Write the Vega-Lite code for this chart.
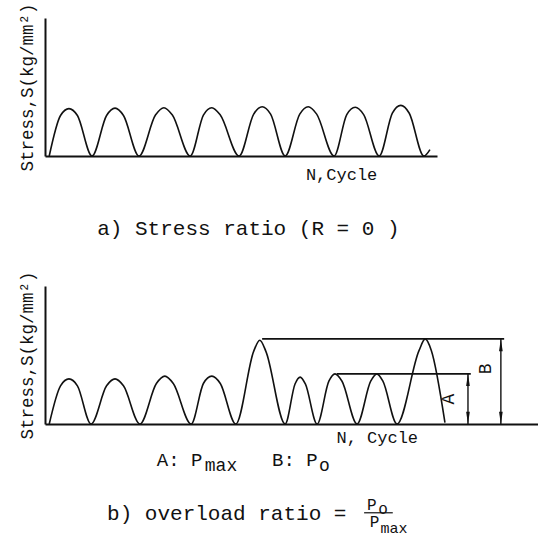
{
  "$schema": "https://vega.github.io/schema/vega-lite/v6.json",
  "padding": {"left": 17, "top": 2, "right": 0, "bottom": 12},
  "background": "white",
  "spacing": 130,
  "bounds": "flush",
  "config": {
    "view": {"stroke": null},
    "font": "Liberation Mono",
    "axis": {"domainColor": "#111", "domainWidth": 2, "ticks": false, "labels": false, "grid": false, "titleFont": "Liberation Mono", "titleFontSize": 17.5, "titleFontWeight": "normal", "titleColor": "#111", "titlePadding": 9},
    "text": {"font": "Liberation Mono", "color": "#111"}
  },
  "datasets": {
    "curveA": [
      {"n": 0.09, "s": 0}, {"n": 0.33, "s": 0.88}, {"n": 0.51, "s": 1.03}, {"n": 0.69, "s": 0.88}, {"n": 1.0, "s": 0},
      {"n": 1.31, "s": 0.88}, {"n": 1.49, "s": 1.04}, {"n": 1.67, "s": 0.88}, {"n": 2.0, "s": 0},
      {"n": 2.35, "s": 0.89}, {"n": 2.53, "s": 1.05}, {"n": 2.71, "s": 0.89}, {"n": 3.09, "s": 0},
      {"n": 3.37, "s": 0.89}, {"n": 3.55, "s": 1.05}, {"n": 3.73, "s": 0.89}, {"n": 4.13, "s": 0},
      {"n": 4.44, "s": 0.91}, {"n": 4.62, "s": 1.07}, {"n": 4.8, "s": 0.91}, {"n": 5.11, "s": 0},
      {"n": 5.42, "s": 0.91}, {"n": 5.6, "s": 1.07}, {"n": 5.78, "s": 0.91}, {"n": 6.15, "s": 0},
      {"n": 6.42, "s": 0.9}, {"n": 6.6, "s": 1.06}, {"n": 6.78, "s": 0.9}, {"n": 7.11, "s": 0},
      {"n": 7.39, "s": 0.93}, {"n": 7.57, "s": 1.1}, {"n": 7.75, "s": 0.93}, {"n": 8.06, "s": 0},
      {"n": 8.19, "s": 0.14}
    ],
    "curveB": [
      {"n": 0.09, "s": 0}, {"n": 0.33, "s": 0.83}, {"n": 0.51, "s": 0.98}, {"n": 0.69, "s": 0.83}, {"n": 0.98, "s": 0},
      {"n": 1.31, "s": 0.83}, {"n": 1.49, "s": 0.98}, {"n": 1.67, "s": 0.83}, {"n": 2.02, "s": 0},
      {"n": 2.37, "s": 0.88}, {"n": 2.55, "s": 1.04}, {"n": 2.73, "s": 0.88}, {"n": 3.11, "s": 0},
      {"n": 3.37, "s": 0.88}, {"n": 3.55, "s": 1.04}, {"n": 3.73, "s": 0.88}, {"n": 4.06, "s": 0},
      {"n": 4.44, "s": 1.58}, {"n": 4.57, "s": 1.82}, {"n": 4.7, "s": 1.58}, {"n": 5.11, "s": 0},
      {"n": 5.32, "s": 0.87}, {"n": 5.43, "s": 1.02}, {"n": 5.54, "s": 0.87}, {"n": 5.79, "s": 0},
      {"n": 6.04, "s": 0.93}, {"n": 6.17, "s": 1.09}, {"n": 6.32, "s": 0.93}, {"n": 6.64, "s": 0},
      {"n": 6.93, "s": 0.93}, {"n": 7.06, "s": 1.09}, {"n": 7.19, "s": 0.93}, {"n": 7.49, "s": 0},
      {"n": 7.96, "s": 1.6}, {"n": 8.09, "s": 1.85}, {"n": 8.22, "s": 1.6}, {"n": 8.51, "s": 0.03}
    ],
    "levels": [
      {"n": 4.62, "n2": 9.77, "s": 1.85},
      {"n": 6.21, "n2": 9.06, "s": 1.09}
    ],
    "arrows": [
      {"n": 9.0, "s": 0, "s2": 1.09},
      {"n": 9.7, "s": 0, "s2": 1.85}
    ],
    "heads": [
      {"n": 9.0, "s": 1.09, "dir": "up"}, {"n": 9.0, "s": 0, "dir": "down"},
      {"n": 9.7, "s": 1.85, "dir": "up"}, {"n": 9.7, "s": 0, "dir": "down"}
    ],
    "axisLabelA": [{"n": 6.31, "s": -0.41, "label": "N,Cycle"}],
    "captionA": [{"n": 1.11, "s": -1.59, "label": "a) Stress ratio (R = 0 )"}],
    "axisLabelB": [{"n": 7.07, "s": -0.3, "label": "N, Cycle"}],
    "legendB": [
      {"n": 2.38, "s": -0.78, "label": "A: P"},
      {"n": 4.83, "s": -0.78, "label": "B: P"}
    ],
    "legendSub": [
      {"n": 3.4, "s": -0.91, "label": "max"},
      {"n": 5.83, "s": -0.91, "label": "o"}
    ],
    "captionB": [{"n": 1.32, "s": -1.96, "label": "b)  overload ratio ="}],
    "fraction": [
      {"n": 6.85, "s": -1.76, "label": "P"},
      {"n": 7.09, "s": -1.84, "label": "o"},
      {"n": 6.91, "s": -2.12, "label": "P"}
    ],
    "fractionSub": [
      {"n": 7.14, "s": -2.26, "label": "max"}
    ],
    "fractionBar": [{"n": 6.79, "n2": 7.4, "s": -1.93}],
    "letters": [
      {"n": 8.6, "s": 0.54, "label": "A"},
      {"n": 9.38, "s": 1.2, "label": "B"}
    ]
  },
  "vconcat": [
    {
      "width": 392,
      "height": 138,
      "encoding": {
        "x": {"field": "n", "type": "quantitative", "scale": {"domain": [0, 8.34], "nice": false, "zero": false}, "axis": {"title": null}},
        "y": {"field": "s", "type": "quantitative", "scale": {"domain": [0, 3], "nice": false}, "axis": {"title": "Stress,S(kg/mm²)"}}
      },
      "layer": [
        {"data": {"name": "curveA"}, "mark": {"type": "line", "interpolate": "monotone", "color": "#111", "strokeWidth": 1.6}},
        {"data": {"name": "axisLabelA"}, "mark": {"type": "text", "fontSize": 17, "align": "center", "baseline": "middle"}, "encoding": {"text": {"field": "label"}}},
        {"data": {"name": "captionA"}, "mark": {"type": "text", "fontSize": 21, "align": "left", "baseline": "middle"}, "encoding": {"text": {"field": "label"}}}
      ]
    },
    {
      "width": 493,
      "height": 138,
      "encoding": {
        "x": {"field": "n", "type": "quantitative", "scale": {"domain": [0, 10.49], "nice": false, "zero": false}, "axis": {"title": null}},
        "y": {"field": "s", "type": "quantitative", "scale": {"domain": [0, 3], "nice": false}, "axis": {"title": "Stress,S(kg/mm²)"}}
      },
      "layer": [
        {"data": {"name": "curveB"}, "mark": {"type": "line", "interpolate": "monotone", "color": "#111", "strokeWidth": 1.6}},
        {"data": {"name": "levels"}, "mark": {"type": "rule", "color": "#111", "strokeWidth": 1.6}, "encoding": {"x2": {"field": "n2"}}},
        {"data": {"name": "arrows"}, "mark": {"type": "rule", "color": "#111", "strokeWidth": 1.4}, "encoding": {"y2": {"field": "s2"}}},
        {"data": {"name": "heads"}, "mark": {"type": "point", "filled": true, "color": "#111", "opacity": 1, "size": 150, "strokeWidth": 0},
         "encoding": {"shape": {"field": "dir", "type": "nominal", "scale": {"domain": ["up", "down"], "range": ["M0,0L0.3,2L-0.3,2Z", "M0,0L0.3,-2L-0.3,-2Z"]}, "legend": null}}},
        {"data": {"name": "letters"}, "mark": {"type": "text", "fontSize": 18, "angle": 270, "align": "center", "baseline": "middle"}, "encoding": {"text": {"field": "label"}}},
        {"data": {"name": "axisLabelB"}, "mark": {"type": "text", "fontSize": 17, "align": "center", "baseline": "middle"}, "encoding": {"text": {"field": "label"}}},
        {"data": {"name": "legendB"}, "mark": {"type": "text", "fontSize": 19, "align": "left", "baseline": "middle"}, "encoding": {"text": {"field": "label"}}},
        {"data": {"name": "legendSub"}, "mark": {"type": "text", "fontSize": 18, "align": "left", "baseline": "middle"}, "encoding": {"text": {"field": "label"}}},
        {"data": {"name": "captionB"}, "mark": {"type": "text", "fontSize": 21, "align": "left", "baseline": "middle"}, "encoding": {"text": {"field": "label"}}},
        {"data": {"name": "fraction"}, "mark": {"type": "text", "fontSize": 16, "align": "left", "baseline": "middle"}, "encoding": {"text": {"field": "label"}}},
        {"data": {"name": "fractionSub"}, "mark": {"type": "text", "fontSize": 15, "align": "left", "baseline": "middle"}, "encoding": {"text": {"field": "label"}}},
        {"data": {"name": "fractionBar"}, "mark": {"type": "rule", "color": "#111", "strokeWidth": 1.2}, "encoding": {"x2": {"field": "n2"}}}
      ]
    }
  ]
}
